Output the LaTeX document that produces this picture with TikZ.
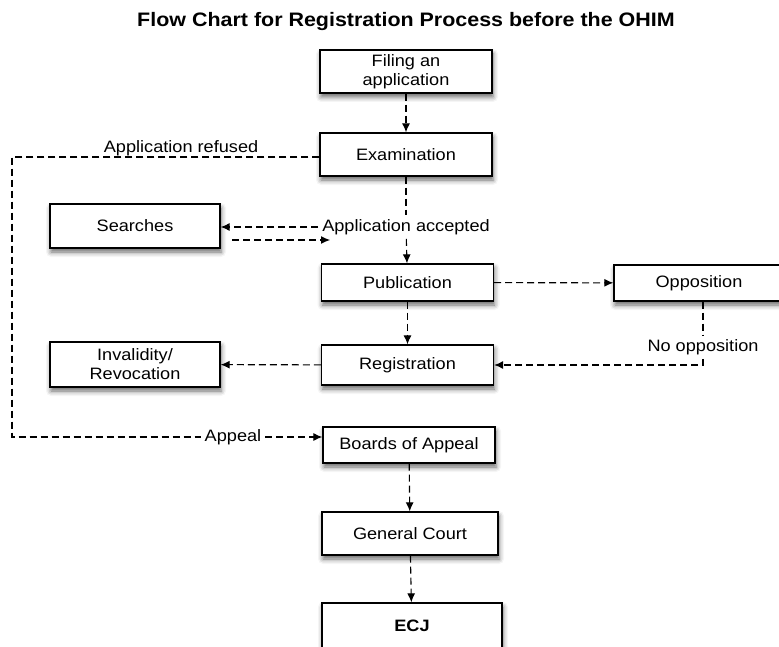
\documentclass[tikz,border=0pt]{standalone}
\usepackage{fontspec}
\setmainfont[FakeStretch=1.1]{Liberation Sans}
\usetikzlibrary{arrows.meta,shadows.blur}

\begin{document}
\begin{tikzpicture}[x=1pt,y=-1pt,
            every node/.style={font=\fontsize{16.5}{19}\selectfont},
            box/.style={draw,fill=white,line width=1.3pt,inner sep=0pt,align=center,
              minimum width=172pt,minimum height=43pt,
              blur shadow={shadow xshift=1pt,shadow yshift=-4pt,
                shadow blur radius=5pt,shadow opacity=60}},
            link/.style={line width=1.1pt,dash pattern=on 7pt off 4pt},
            flow/.style={link,-{Latex[length=9pt,width=8pt]}},
            lbl/.style={inner sep=4pt}]
 \useasboundingbox (0,0) rectangle (779,647);

 \node[font=\fontsize{19.5}{22}\selectfont\bfseries] (title) at (406,22)
   {Flow Chart for Registration Process before the OHIM};

 % main column
 \node[box] (filing) at (406,71.5) {Filing an\\application};
 \node[box] (exam) at (406,154.5) {Examination};
 \node[lbl] (accepted) at (406,227) {Application accepted};
 \node[box,minimum height=37pt] (pub) at (407.5,282.5) {Publication};
 \node[box,minimum height=40pt] (reg) at (407.5,365) {Registration};
 \node[lbl] (appeal) at (233,437) {Appeal};
 \node[box,minimum height=36pt] (boa) at (409,445) {Boards of Appeal};
 \node[box,minimum width=176pt] (court) at (410,533.5) {General Court};
 \node[box,font=\fontsize{16.5}{19}\selectfont\bfseries,anchor=base,
   text height=22pt,text depth=30pt,inner ysep=6pt,minimum width=180pt]
   (ecj) at (412,631) {ECJ};

 % side boxes
 \node[box,minimum width=170pt,minimum height=44pt] (search) at (135,226) {Searches};
 \node[box,minimum width=170pt,minimum height=45pt] (invalid) at (135,364.5)
   {Invalidity/\\Revocation};
 \node[box,minimum width=170pt,minimum height=36pt] (oppos) at (699,283) {Opposition};
 \node[lbl] (noopp) at (703,347) {No opposition};

 \coordinate (ltop) at (12,157);
 \coordinate (lbot) at (12,437);
 \coordinate (sback) at (232,240);
 \coordinate (sfwd) at (330,240);

 % connectors
 \draw[flow] (filing) -- (exam);
 \draw[link] (exam.west |- ltop) -- node[inner sep=1pt,above,pos=0.45] {Application refused} (ltop)
   -- (lbot) -- (appeal.west);
 \draw[flow] (appeal.east) -- (boa.west |- appeal.east);
 \draw[link] (exam) -- (accepted);
 \draw[flow] (accepted) -- (pub);
 \draw[flow] (accepted.west) -- (search.east |- accepted.west);
 \draw[flow] (sback) -- (sfwd);
 \draw[flow] (pub) -- (oppos);
 \draw[flow] (pub) -- (reg);
 \draw[link] (noopp.north |- oppos.south) -- (noopp.north);
 \draw[flow] (noopp.south) |- (reg.east);
 \draw[flow] (reg) -- (invalid);
 \draw[flow] (boa) -- (court);
 \draw[flow] (court) -- (ecj);
\end{tikzpicture}
\end{document}
